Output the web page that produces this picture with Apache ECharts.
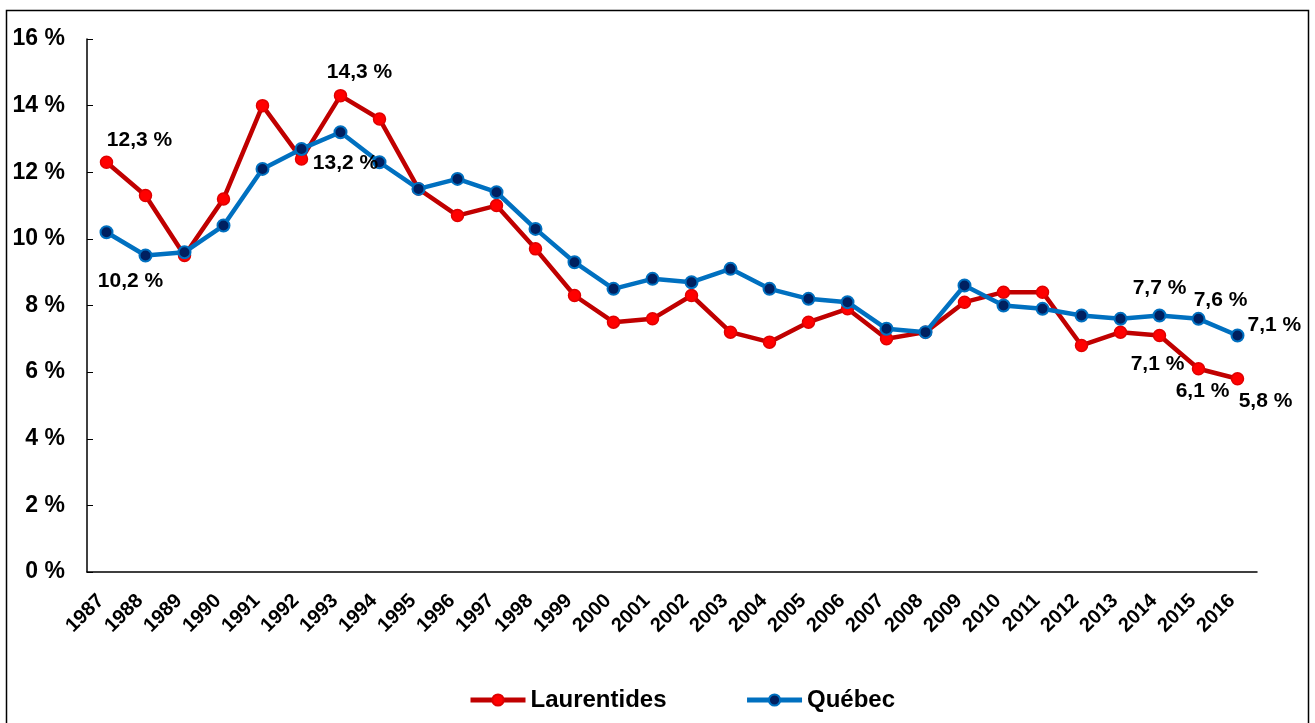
<!DOCTYPE html>
<html lang="fr">
<head>
  <meta charset="UTF-8">
  <title>Taux de chômage</title>
  <style>
    html, body { margin: 0; padding: 0; background: #fff; }
    #chart { width: 1315px; height: 723px; }
  </style>
</head>
<body>
  <div id="chart"></div>
  <script src="https://cdn.jsdelivr.net/npm/echarts@6/dist/echarts.min.js"></script>
  <script>
    var years = ['1987', '1988', '1989', '1990', '1991', '1992', '1993', '1994', '1995', '1996',
      '1997', '1998', '1999', '2000', '2001', '2002', '2003', '2004', '2005', '2006',
      '2007', '2008', '2009', '2010', '2011', '2012', '2013', '2014', '2015', '2016'];
    var laurentides = [12.3, 11.3, 9.5, 11.2, 14.0, 12.4, 14.3, 13.6, 11.5, 10.7,
      11.0, 9.7, 8.3, 7.5, 7.6, 8.3, 7.2, 6.9, 7.5, 7.9,
      7.0, 7.2, 8.1, 8.4, 8.4, 6.8, 7.2, 7.1, 6.1, 5.8];
    var quebec = [10.2, 9.5, 9.6, 10.4, 12.1, 12.7, 13.2, 12.3, 11.5, 11.8,
      11.4, 10.3, 9.3, 8.5, 8.8, 8.7, 9.1, 8.5, 8.2, 8.1,
      7.3, 7.2, 8.6, 8.0, 7.9, 7.7, 7.6, 7.7, 7.6, 7.1];
    var yTicks = [0, 2, 4, 6, 8, 10, 12, 14, 16];

    // which points get a value label, and where
    var lauLabels = {
      0: { position: 'top', offset: [33, 0] },
      6: { position: 'top', offset: [19, -1] },
      27: { position: 'bottom', offset: [-2, 6] },
      28: { position: 'bottom', offset: [4, 0] },
      29: { position: 'bottom', offset: [28, 0] }
    };
    var queLabels = {
      0: { position: 'bottom', offset: [24, 26] },
      6: { position: 'bottom', offset: [5, 8] },
      27: { position: 'top', offset: [0, -5] },
      28: { position: 'top', offset: [22, 4] },
      29: { position: 'right', offset: [-2, -10] }
    };

    function fmt(v) {
      return v.toFixed(1).replace('.', ',') + ' %';
    }

    function buildData(values, labels) {
      return values.map(function (v, i) {
        var item = { value: v };
        if (labels[i]) {
          item.label = {
            show: true,
            position: labels[i].position,
            offset: labels[i].offset,
            formatter: function (p) { return fmt(p.value); },
            fontFamily: 'Liberation Sans',
            fontWeight: 'bold',
            fontSize: 21,
            color: '#000'
          };
        }
        return item;
      });
    }

    var chart = echarts.init(document.getElementById('chart'));
    chart.setOption({
      animation: false,
      textStyle: { fontFamily: 'Liberation Sans' },
      graphic: [{
        type: 'rect',
        shape: { x: 6.5, y: 10.5, width: 1302, height: 730 },
        style: { fill: 'none', stroke: '#000', lineWidth: 1.5 },
        silent: true
      }],
      grid: { left: 87, right: 58, top: 39, bottom: 151 },
      legend: {
        bottom: 6,
        left: 463,
        itemGap: 78,
        itemWidth: 55,
        itemHeight: 14,
        lineStyle: { width: 5 },
        textStyle: { fontFamily: 'Liberation Sans', fontWeight: 'bold', fontSize: 24, color: '#000' },
        data: ['Laurentides', 'Québec']
      },
      xAxis: {
        type: 'category',
        data: years,
        boundaryGap: true,
        axisLine: { lineStyle: { color: '#000', width: 1.5 } },
        axisTick: { inside: true, length: 6, lineStyle: { color: '#000' } },
        axisLabel: {
          rotate: 45,
          interval: 0,
          margin: 20,
          padding: [0, 8, 0, 0],
          color: '#000',
          fontWeight: 'bold',
          fontSize: 20,
          fontFamily: 'Liberation Sans'
        }
      },
      yAxis: {
        type: 'value',
        min: yTicks[0],
        max: yTicks[yTicks.length - 1],
        interval: 2,
        splitLine: { show: false },
        axisLine: { show: true, lineStyle: { color: '#000', width: 1.5 } },
        axisTick: { show: true, inside: true, length: 6, lineStyle: { color: '#000' } },
        axisLabel: {
          margin: 22,
          color: '#000',
          fontWeight: 'bold',
          fontSize: 23,
          fontFamily: 'Liberation Sans',
          formatter: function (v) { return v + ' %'; }
        }
      },
      series: [{
        name: 'Laurentides',
        type: 'line',
        symbol: 'circle',
        symbolSize: 12,
        z: 2,
        lineStyle: { color: '#C00000', width: 4.5 },
        itemStyle: { color: '#FF0000', borderColor: '#E00000', borderWidth: 1.5 },
        data: buildData(laurentides, lauLabels)
      }, {
        name: 'Québec',
        type: 'line',
        symbol: 'circle',
        symbolSize: 12,
        z: 3,
        lineStyle: { color: '#0070C0', width: 4.5 },
        itemStyle: { color: '#002060', borderColor: '#0070C0', borderWidth: 2 },
        data: buildData(quebec, queLabels)
      }]
    });
  </script>
</body>
</html>
